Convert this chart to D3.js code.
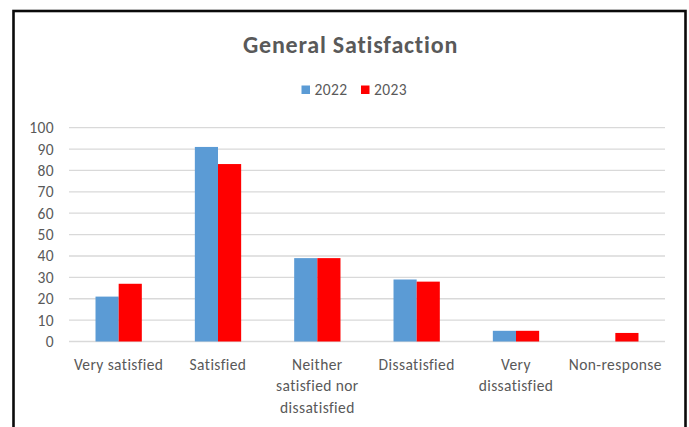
<!DOCTYPE html>
<html>
<head>
<meta charset="utf-8">
<script src="https://cdn.jsdelivr.net/npm/d3@7"></script>
<style>
  html, body { margin: 0; padding: 0; background: #fff; }
  svg { display: block; }
  text { font-family: Carlito, Calibri, Lato, "Open Sans", sans-serif; fill: #595959; }
</style>
</head>
<body>
<svg id="chart" width="689" height="427"></svg>
<script>
const categories = ["Very satisfied", "Satisfied", "Neither satisfied nor dissatisfied", "Dissatisfied", "Very dissatisfied", "Non-response"];
const categoryLines = [["Very satisfied"], ["Satisfied"], ["Neither", "satisfied nor", "dissatisfied"], ["Dissatisfied"], ["Very", "dissatisfied"], ["Non-response"]];
const seriesNames = ["2022", "2023"];
const values2022 = [21, 91, 39, 29, 5, null];
const values2023 = [27, 83, 39, 28, 5, 4];
const yTicks = [0, 10, 20, 30, 40, 50, 60, 70, 80, 90, 100];
const colors = ["#5B9BD5", "#FF0000"];
const titleText = "General Satisfaction";

const svg = d3.select("#chart");
const labelFont = 15.5, labelSpacing = 0.4;

// outer frame
svg.append("rect")
  .attr("x", 13.5).attr("y", 11)
  .attr("width", 672).attr("height", 440)
  .attr("fill", "#fff")
  .attr("stroke", "#0a0a0a").attr("stroke-width", 2.6);

const plotLeft = 69, plotRight = 665, plotTop = 127.7, plotBottom = 341.5;

const x = d3.scaleBand().domain(categories).range([plotLeft, plotRight]).padding(0);
const y = d3.scaleLinear().domain([0, 100]).range([plotBottom, plotTop]);
const inner = d3.scaleBand().domain(seriesNames).range([0, x.bandwidth()]).paddingOuter(1.145).paddingInner(0);

// gridlines
svg.append("g").selectAll("line").data(yTicks).join("line")
  .attr("x1", plotLeft).attr("x2", plotRight)
  .attr("y1", d => y(d)).attr("y2", d => y(d))
  .attr("stroke", "#d9d9d9").attr("stroke-width", 1.3);

// y axis labels
const yAxis = d3.axisLeft(y).tickValues(yTicks).tickSize(0).tickPadding(0);
const yg = svg.append("g").attr("transform", `translate(${54},0)`).call(yAxis);
yg.select(".domain").remove();
yg.selectAll("text").attr("font-size", labelFont).attr("fill", "#595959")
  .attr("letter-spacing", labelSpacing)
  .style("font-family", "Carlito, Calibri, Lato, sans-serif");

// bars
const seriesData = [values2022, values2023];
seriesData.forEach((vals, si) => {
  svg.append("g").selectAll("rect")
    .data(categories.map((c, i) => ({ c, v: vals[i] })).filter(d => d.v != null))
    .join("rect")
    .attr("x", d => x(d.c) + inner(seriesNames[si]))
    .attr("width", inner.bandwidth())
    .attr("y", d => y(d.v))
    .attr("height", d => y(0) - y(d.v))
    .attr("fill", colors[si]);
});

// x labels
const xAxis = d3.axisBottom(x).tickSize(0).tickFormat("");
const xg = svg.append("g").attr("transform", `translate(0,${plotBottom})`).call(xAxis);
xg.select(".domain").remove();
xg.selectAll(".tick").each(function(d, i) {
  const t = d3.select(this).append("text")
    .attr("text-anchor", "middle")
    .attr("font-size", labelFont)
    .attr("letter-spacing", labelSpacing)
    .attr("fill", "#595959");
  categoryLines[i].forEach((ln, k) => {
    t.append("tspan").attr("x", 0).attr("y", 28 + k * 21.5).text(ln);
  });
});

// title
svg.append("text")
  .attr("x", 350.5).attr("y", 52.5)
  .attr("text-anchor", "middle")
  .attr("font-size", 24).attr("font-weight", "bold")
  .attr("letter-spacing", 0.8)
  .attr("fill", "#595959")
  .text(titleText);

// legend
const legendX = [301.5, 361];
seriesNames.forEach((s, i) => {
  svg.append("rect").attr("x", legendX[i]).attr("y", 85.5)
    .attr("width", 8.5).attr("height", 8.5).attr("fill", colors[i]);
  svg.append("text").attr("x", legendX[i] + 13).attr("y", 95)
    .attr("font-size", labelFont).attr("letter-spacing", labelSpacing)
    .attr("fill", "#595959").text(s);
});
</script>
</body>
</html>
